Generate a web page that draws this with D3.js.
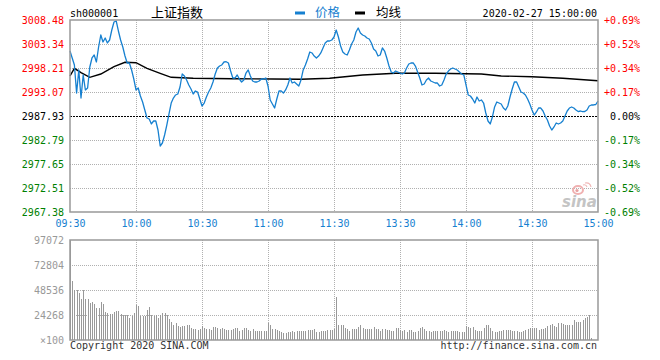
<!DOCTYPE html>
<html><head><meta charset="utf-8">
<script src="https://cdn.jsdelivr.net/npm/d3@7"></script>
<style>body{margin:0;background:#fff}svg{display:block}</style>
</head><body><svg id="c" width="660" height="360"></svg>
<script>
// ---------- data ----------
const priceTicks = [3008.48, 3003.34, 2998.21, 2993.07, 2987.93, 2982.79, 2977.65, 2972.51, 2967.38];
const pctLabels = ["+0.69%","+0.52%","+0.34%","+0.17%","0.00%","-0.17%","-0.34%","-0.52%","-0.69%"];
const timeTickIdx = [0, 30, 60, 90, 120, 150, 180, 210, 240];
const timeLabels = ["09:30","10:00","10:30","11:00","11:30","13:30","14:00","14:30","15:00"];
const volTicks = [97072, 72804, 48536, 24268, 0];
const volLabels = ["97072","72804","48536","24268","\u00d7100"];
const preClose = 2987.93;

const prices = [
 3001.84,3000.35,2998.85,2992.85,2997.78,2991.78,2996.71,2993.50,2993.92,2998.42,
 3000.35,3000.99,2999.49,3002.70,3005.27,3003.77,3004.63,3003.56,3004.20,3006.34,
 3008.05,3008.27,3006.13,3004.20,3002.70,3000.77,2999.28,2999.28,2997.78,2995.85,
 2993.50,2993.92,2992.21,2990.93,2989.21,2987.50,2987.29,2986.22,2986.86,2986.86,
 2984.93,2981.51,2982.15,2983.86,2986.00,2988.36,2990.71,2991.78,2992.43,2992.64,
 2994.14,2996.92,2996.49,2995.64,2994.57,2993.71,2992.64,2993.28,2993.07,2991.57,
 2990.07,2990.71,2992.00,2993.07,2993.92,2995.21,2996.92,2998.21,2998.63,2998.85,
 2999.49,2999.55,2999.28,2997.56,2996.06,2996.06,2996.71,2995.85,2995.21,2995.64,
 2997.13,2997.78,2996.49,2995.42,2995.21,2995.21,2995.42,2995.85,2995.85,2996.06,
 2994.35,2991.36,2990.50,2989.64,2991.57,2993.28,2993.28,2992.85,2993.50,2994.57,
 2996.06,2994.99,2995.21,2994.78,2994.35,2995.64,2997.78,2998.85,3000.13,3001.63,
 3001.42,3000.77,3000.35,3000.77,3001.42,3002.49,3003.56,3003.98,3003.98,3004.20,
 3004.84,
 3006.34,3004.84,3002.91,3001.63,3001.20,3000.99,3002.06,3003.34,3004.20,3005.91,
 3006.77,3005.70,3005.27,3005.06,3004.63,3004.41,3003.56,3002.27,3001.84,3000.77,
 3000.99,3002.49,3001.84,3000.35,2998.63,2997.35,2997.13,2997.56,2997.35,2997.13,
 2996.92,2997.13,2998.21,2999.06,2999.28,2999.28,2998.63,2997.35,2996.06,2994.57,
 2994.78,2995.64,2996.06,2995.42,2995.21,2994.99,2994.99,2994.35,2994.57,2995.64,
 2996.92,2997.56,2997.99,2998.21,2997.99,2997.78,2997.35,2996.92,2996.71,2994.57,
 2992.43,2992.21,2991.57,2990.71,2992.00,2991.14,2991.36,2990.71,2988.57,2986.86,
 2986.22,2987.72,2989.86,2990.93,2990.71,2990.50,2989.64,2989.21,2990.07,2992.00,
 2993.71,2995.21,2995.21,2994.14,2993.07,2992.85,2992.43,2991.57,2990.50,2989.21,
 2988.14,2988.79,2989.64,2989.64,2989.00,2987.93,2987.07,2985.79,2984.93,2985.58,
 2986.43,2986.22,2986.43,2986.86,2987.93,2989.00,2989.64,2989.86,2989.64,2989.21,
 2988.89,2989.00,2988.85,2988.89,2989.21,2990.07,2990.29,2990.29,2990.39,2991.14
];

const avgIdx = [0, 2, 5, 9, 14, 20, 25, 30, 35, 41, 46, 56, 74, 92, 105, 118, 133, 148, 166, 187, 196, 210, 224, 240];
const avgVal = [2996.49, 2998.14, 2997.20, 2996.21, 2996.92, 2998.48, 2999.43, 2999.34, 2998.14, 2997.07,
                2996.21, 2996.00, 2995.91, 2995.85, 2995.79, 2996.00, 2996.71, 2997.07, 2997.07, 2996.92,
                2996.49, 2996.34, 2996.00, 2995.49];

const volumes = [
 97072,
 57270,48540,48540,45620,39800,48540,39800,39800,35920,36890,
 34950,31060,31060,36890,34950,27180,26210,25240,25240,27180,
 28150,28150,25240,24270,24270,24270,21360,23300,26210,33980,
 33000,23300,23300,23300,29120,32030,24270,23300,24270,21360,
 24270,26210,26210,24270,20390,17470,14560,16500,13590,12620,
 13590,13590,14560,14560,11650,10680,10680,9710,10680,13590,
 11650,10680,10680,9710,12620,12620,11650,10680,11650,10680,
 9710,9710,9710,10680,11650,11650,8740,9710,11650,11650,
 9710,8740,10680,8740,8740,8740,8740,8740,8740,16500,
 14560,10680,10680,9710,8740,7770,6800,6800,7770,7770,
 8740,7770,8740,8740,8740,8740,8740,9710,9710,9710,
 10680,7770,7770,8740,8740,8740,9710,9710,9710,10680,
 41740,14560,14560,14560,11650,10680,8740,10680,10680,10680,
 12620,14560,11650,10680,10680,10680,10680,12620,10680,10680,
 8740,10680,10680,9710,9710,8740,8740,11650,11650,9710,
 8740,9710,7770,9710,9710,7770,7770,8740,11650,12620,
 10680,8740,8740,7770,8740,8740,8740,8740,8740,9710,
 8740,7770,8740,8740,8740,8740,7770,7770,7770,13590,
 12620,11650,12620,9710,8740,8740,8740,11650,14560,14560,
 11650,8740,7770,7770,8740,8740,9710,9710,9710,9710,
 8740,8740,8740,7770,7770,8740,9710,10680,11650,11650,
 11650,11650,9710,10680,10680,11650,13590,14560,15530,13590,
 12620,16500,16500,15530,14560,14560,14560,14560,19410,17470,
 17470,17470,19410,21360,22330,24270,1460,0,0,0
];

// ---------- drawing ----------
const svg = d3.select("#c");
const L = 70, R = 598, T = 20, B = 212, VT = 240, VB = 340;
const mono = "'DejaVu Sans Mono', monospace";
const cjk = "'Noto Sans CJK SC', sans-serif";
const RED = "#ff0000", GREEN = "#008000", BLUE = "#1680d0", GRAY = "#999";
const GRID = "#b0b0b0";

const x = d3.scaleLinear().domain([0, 240]).range([L, R]);
const y = d3.scaleLinear().domain([priceTicks[8], priceTicks[0]]).range([B, T]);
const yv = d3.scaleLinear().domain([0, volTicks[0]]).range([VB, VT]);

svg.append("rect").attr("width", 660).attr("height", 360).attr("fill", "#fff");

function tickColor(d) { return d > preClose + 1e-6 ? RED : (d < preClose - 1e-6 ? GREEN : "#000"); }

// grids (price)
const grid = svg.append("g").attr("shape-rendering", "crispEdges");
grid.selectAll(".hg").data(priceTicks.filter((d, i) => i > 0 && i < 8 && d !== preClose)).enter()
  .append("line").attr("x1", L).attr("x2", R).attr("y1", d => Math.round(y(d)) + 0.5).attr("y2", d => Math.round(y(d)) + 0.5)
  .attr("stroke", GRID).attr("stroke-dasharray", "1,1");
grid.selectAll(".vg").data(timeTickIdx.slice(1, -1)).enter()
  .append("line").attr("y1", T).attr("y2", B).attr("x1", d => Math.round(x(d)) + 0.5).attr("x2", d => Math.round(x(d)) + 0.5)
  .attr("stroke", GRID).attr("stroke-dasharray", "1,1");
// grids (volume)
grid.selectAll(".hv").data(volTicks.slice(1, -1)).enter()
  .append("line").attr("x1", L).attr("x2", R).attr("y1", d => Math.round(yv(d)) + 0.5).attr("y2", d => Math.round(yv(d)) + 0.5)
  .attr("stroke", GRID).attr("stroke-dasharray", "1,1");
grid.selectAll(".vv").data(timeTickIdx.slice(1, -1)).enter()
  .append("line").attr("y1", VT).attr("y2", VB).attr("x1", d => Math.round(x(d)) + 0.5).attr("x2", d => Math.round(x(d)) + 0.5)
  .attr("stroke", GRID).attr("stroke-dasharray", "1,1");

// pre-close line
grid.append("line").attr("x1", L).attr("x2", R)
  .attr("y1", Math.round(y(preClose)) + 0.5).attr("y2", Math.round(y(preClose)) + 0.5)
  .attr("stroke", "#000").attr("stroke-dasharray", "2,1");

// sina watermark
const wm = svg.append("g");
wm.append("ellipse").attr("cx", 578).attr("cy", 190).attr("rx", 5).attr("ry", 4)
  .attr("fill", "none").attr("stroke", "#f0b0b0").attr("stroke-width", 2);
wm.append("circle").attr("cx", 577).attr("cy", 190.5).attr("r", 1.6).attr("fill", "#e8a0a0");
wm.append("path").attr("d", "M583,185 q3,-1 4,2 M585,183 q5,-1 6,4").attr("fill", "none").attr("stroke", "#f0b8b8").attr("stroke-width", 1.2);
wm.append("text").attr("x", 562).attr("y", 207).text("sina")
  .attr("font-family", "'DejaVu Sans', sans-serif").attr("font-style", "italic").attr("font-weight", "bold")
  .attr("font-size", 15).attr("fill", "#c4c4c4");

// volume bars
svg.append("g").attr("shape-rendering", "crispEdges").selectAll("line").data(volumes).enter()
  .append("line")
  .attr("x1", (d, i) => Math.round(x(i)) + 0.5).attr("x2", (d, i) => Math.round(x(i)) + 0.5)
  .attr("y1", yv(0)).attr("y2", d => yv(d))
  .attr("stroke", GRAY).attr("stroke-width", 1);

// average line
const avgPts = avgIdx.map((d, i) => [d, avgVal[i]]);
svg.append("path").datum(avgPts)
  .attr("d", d3.line().x(d => x(d[0])).y(d => y(d[1])))
  .attr("fill", "none").attr("stroke", "#000").attr("stroke-width", 1.4);

// price line
svg.append("path").datum(prices)
  .attr("d", d3.line().x((d, i) => x(i)).y(d => y(d)))
  .attr("fill", "none").attr("stroke", BLUE).attr("stroke-width", 1.3).attr("stroke-linejoin", "round");

// borders
const bd = svg.append("g").attr("fill", "none").attr("stroke", GRAY).attr("stroke-width", 1.5);
bd.append("rect").attr("x", L).attr("y", T).attr("width", R - L).attr("height", B - T);
bd.append("rect").attr("x", L).attr("y", VT).attr("width", R - L).attr("height", VB - VT);

// axes
function styleAxis(g) {
  g.select(".domain").remove();
  g.attr("font-family", mono).attr("font-size", 10);
}
const ax1 = svg.append("g").attr("transform", `translate(${L},0)`)
  .call(d3.axisLeft(y).tickValues(priceTicks).tickSize(0).tickPadding(6).tickFormat(d => d.toFixed(2)));
styleAxis(ax1);
ax1.selectAll("text").attr("fill", d => tickColor(d));

const ax2 = svg.append("g").attr("transform", `translate(${R},0)`)
  .call(d3.axisRight(y).tickValues(priceTicks).tickSize(0).tickPadding(42).tickFormat((d, i) => pctLabels[i]));
styleAxis(ax2);
ax2.selectAll("text").attr("text-anchor", "end").attr("fill", d => tickColor(d));

const ax3 = svg.append("g").attr("transform", `translate(0,${B})`)
  .call(d3.axisBottom(x).tickValues(timeTickIdx).tickSize(0).tickPadding(8).tickFormat((d, i) => timeLabels[i]));
styleAxis(ax3);
ax3.selectAll("text").attr("fill", BLUE);

const ax4 = svg.append("g").attr("transform", `translate(${L},0)`)
  .call(d3.axisLeft(yv).tickValues(volTicks).tickSize(0).tickPadding(6).tickFormat((d, i) => volLabels[i]));
styleAxis(ax4);
ax4.selectAll("text").attr("fill", GRAY);

// header
svg.append("text").attr("x", 70).attr("y", 16.5).text("sh000001")
  .attr("font-family", mono).attr("font-size", 10).attr("fill", "#000");
svg.append("text").attr("x", 151).attr("y", 17).text("上证指数")
  .attr("font-family", cjk).attr("font-size", 13).attr("fill", "#000");
svg.append("rect").attr("x", 295).attr("y", 11.5).attr("width", 10).attr("height", 3).attr("fill", BLUE);
svg.append("text").attr("x", 315).attr("y", 17).text("价格")
  .attr("font-family", cjk).attr("font-size", 12.5).attr("fill", BLUE);
svg.append("rect").attr("x", 355).attr("y", 11.5).attr("width", 10).attr("height", 3).attr("fill", "#000");
svg.append("text").attr("x", 376).attr("y", 17).text("均线")
  .attr("font-family", cjk).attr("font-size", 12.5).attr("fill", "#000");
svg.append("text").attr("x", 597).attr("y", 16.5).attr("text-anchor", "end").text("2020-02-27 15:00:00")
  .attr("font-family", mono).attr("font-size", 10).attr("fill", "#000");

// footer
svg.append("text").attr("x", 70).attr("y", 349).text("Copyright 2020 SINA.COM")
  .attr("font-family", mono).attr("font-size", 10).attr("fill", "#333");
svg.append("text").attr("x", 597).attr("y", 349).attr("text-anchor", "end").text("http://finance.sina.com.cn")
  .attr("font-family", mono).attr("font-size", 10).attr("fill", "#333");
</script>
</body></html>
